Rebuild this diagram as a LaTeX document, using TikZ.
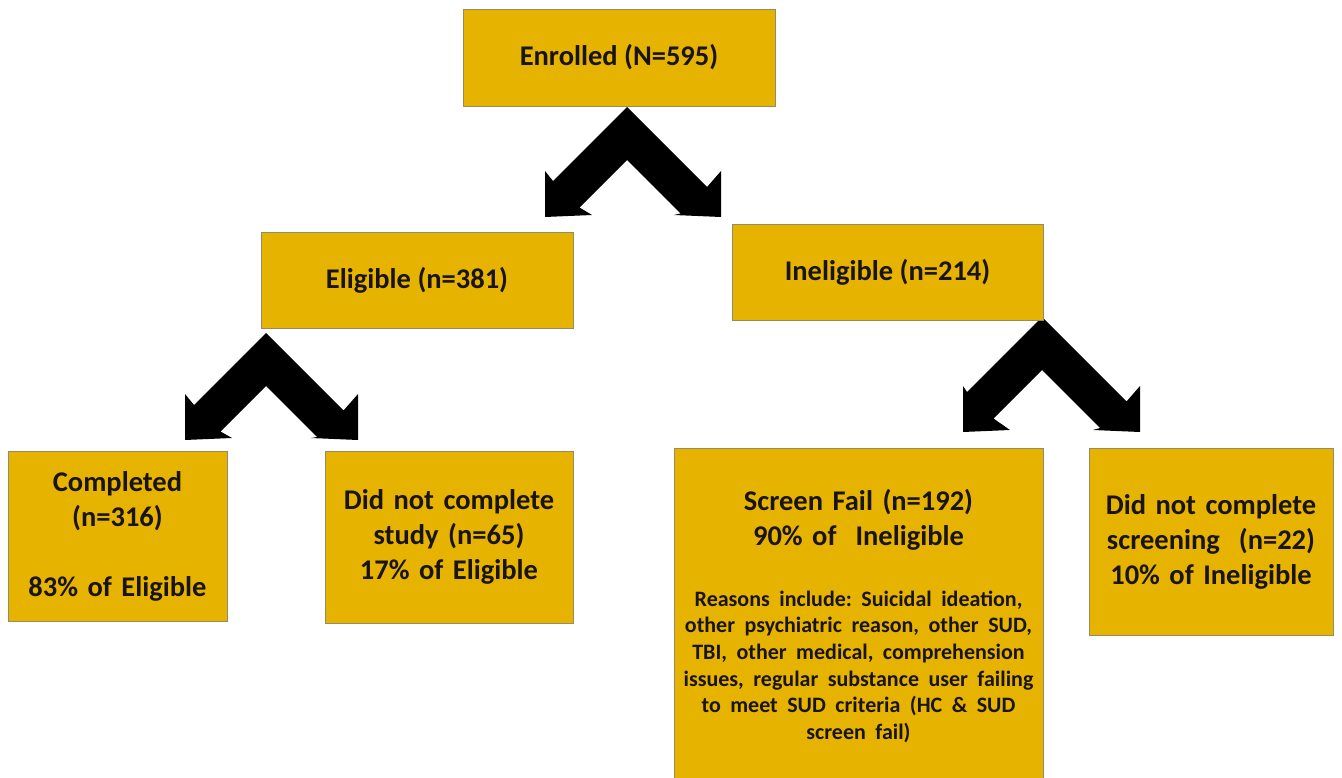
\documentclass[tikz,border=0pt]{standalone}
\usepackage{fontspec}
\setmainfont{Carlito}
\frenchspacing
\definecolor{boxfill}{RGB}{230,179,0}
\definecolor{boxline}{RGB}{150,138,100}
\definecolor{txt}{RGB}{25,20,15}
\newcommand\chev[6]{% name, apex x, apex y, left a, right b, height h
  \coordinate (#1) at (#2,#3);
  \fill[chevfill, shift={(#1)}] (0,0)
    -- ({-(#4+#6-44)/2},{(#4+#6-44)/2})
    -- ({-#4},{#6-46}) -- ({-#4},#6) -- ({-#4+47},{#6-2})
    -- ({-(#4+#6-97)/2},{(#4+#6-97)/2+53})
    -- (0,53)
    -- ({(#5+#6-97)/2},{(#5+#6-97)/2+53})
    -- ({#5-47},{#6-2}) -- (#5,#6) -- (#5,{#6-46})
    -- ({(#5+#6-44)/2},{(#5+#6-44)/2})
    -- cycle;}
\begin{document}
\begin{tikzpicture}[x=1pt,y=-1pt,
  chevfill/.style={fill=black},
  box/.style={draw=boxline, line width=0.8pt, fill=boxfill, text=txt,
    font=\bfseries\fontsize{28.5}{35}\selectfont, align=center, inner sep=0pt}]
\useasboundingbox (0,0) rectangle (1342,778);
\fill[white] (0,0) rectangle (1342,778);
% block arrows
\chev{c1}{627}{107}{82}{94}{110}
\chev{c2}{266}{333}{81}{92}{107}
\chev{c3}{1042}{317}{79}{98}{115}
% boxes
\node[box, minimum width=312pt, minimum height=97pt] (enr) at (619,57.5) {Enrolled (N=595)};
\node[box, minimum width=312pt, minimum height=96pt] (eli) at (417,280) {Eligible (n=381)};
\node[box, minimum width=311pt, minimum height=96pt] (ine) at (887.5,272) {Ineligible (n=214)};
\node[box, minimum width=219pt, minimum height=170pt, text width=219pt] (comp) at (117.5,536)
  {Completed\\(n=316)\\[35pt]83\% of Eligible};
\node[box, minimum width=248pt, minimum height=172pt, text width=248pt] (dncs) at (449,537)
  {Did not complete\\study (n=65)\\17\% of Eligible};
\node[box, minimum width=369pt, minimum height=332pt, text width=369pt] (sf) at (858.5,614)
  {Screen Fail (n=192)\\90\% of\ \ Ineligible\par
   \vspace{34pt}
   {\fontsize{22}{26.7}\selectfont Reasons include: Suicidal ideation,\\
   other psychiatric reason, other SUD,\\
   TBI, other medical, comprehension\\
   issues, regular substance user failing\\
   to meet SUD criteria (HC \& SUD\\
   screen fail)\par}\vspace{-4pt}};
\node[box, minimum width=244pt, minimum height=187pt, text width=244pt] (dnsc) at (1211,541.5)
  {Did not complete\\screening\ \ (n=22)\\10\% of Ineligible};
\end{tikzpicture}
\end{document}
